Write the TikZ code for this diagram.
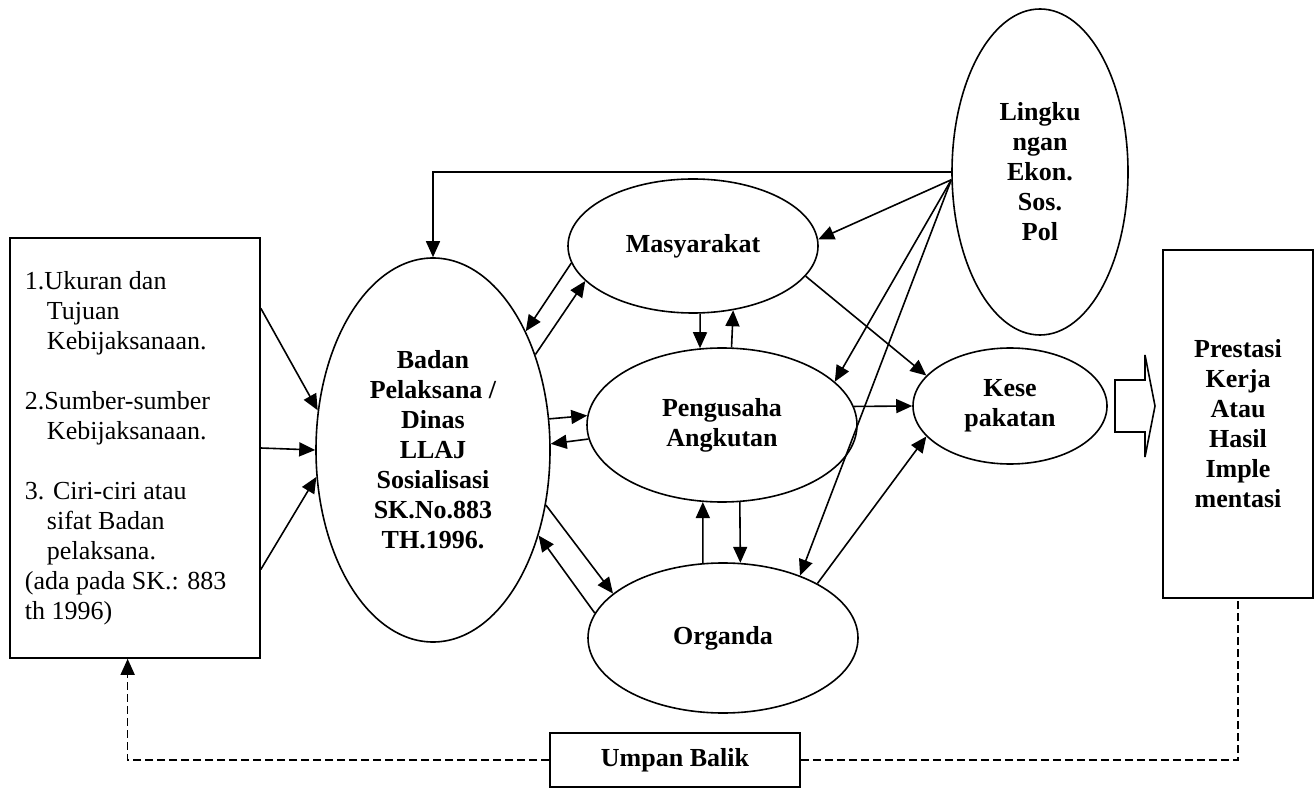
\documentclass[tikz,border=0pt]{standalone}
\usepackage{fontspec}
\setmainfont{Liberation Serif}
\usetikzlibrary{shapes.geometric,arrows.meta}

\tikzset{
  oval/.style={draw, ellipse, inner sep=0pt, align=center, font=\fontsize{13}{15}\selectfont\bfseries},
  box/.style={draw, rectangle, inner sep=0pt, font=\fontsize{13}{15}\selectfont},
  fb/.style={dash pattern=on 4pt off 2pt},
}

\begin{document}
\begin{tikzpicture}[x=0.5pt, y=-0.5pt, ->, >={Triangle[length=8pt,width=7pt]}, line width=0.8pt]
    \useasboundingbox (0,0) rectangle (1315,790);

    \node[box, minimum width=125pt, minimum height=210pt, text width=110pt, align=flush left] (crt) at (135,448)
        {1.Ukuran dan\\ \hspace*{11pt}Tujuan\\ \hspace*{11pt}Kebijaksanaan.\\[15pt]
         2.Sumber-sumber\\ \hspace*{11pt}Kebijaksanaan.\\[15pt]
         3. Ciri-ciri atau\\ \hspace*{11pt}sifat Badan\\ \hspace*{11pt}pelaksana.\\
         \mbox{(ada pada SK.: 883}\\ th 1996)};
    \node[oval, minimum width=117pt, minimum height=192pt] (bdn) at (433,450)
        {Badan\\ Pelaksana /\\ Dinas\\ LLAJ\\ Sosialisasi\\ SK.No.883\\ TH.1996.};
    \node[oval, minimum width=125pt, minimum height=67pt] (mas) at (693,246) {Masyarakat};
    \node[oval, minimum width=135pt, minimum height=77pt] (peng) at (722,425) {Pengusaha\\ Angkutan};
    \node[oval, minimum width=135pt, minimum height=75pt] (org) at (723,638) {Organda};
    \node[oval, minimum width=88pt, minimum height=163pt] (lkg) at (1040,172) {Lingku\\ ngan\\ Ekon.\\ Sos.\\ Pol};
    \node[oval, minimum width=97pt, minimum height=58pt] (kes) at (1010,406) {Kese\\ pakatan};
    \node[box, font=\fontsize{13}{15}\selectfont\bfseries, align=center, minimum width=75pt, minimum height=174pt] (prs) at (1238,424)
        {Prestasi\\ Kerja\\ Atau\\ Hasil\\ Imple\\ mentasi};
    \node[box, font=\fontsize{13}{15}\selectfont\bfseries, minimum width=125pt, minimum height=27pt] (umb) at (675,760) {Umpan Balik};

    \draw (crt.48) to (bdn.161);
    \draw (crt.east) to (bdn.west);
    \draw (crt.-44) to (bdn.193);

    \draw (lkg.west) -| (bdn.north);
    \draw (lkg.185) to (mas.3);
    \draw (lkg.185) to (peng.21);
    \draw (lkg.185) to (org.39);

    \draw (mas.-15) to (kes.160);
    \draw (peng.8) to (kes.west);
    \draw (org.30) to (kes.200);

    \draw (mas.188) to (bdn.52);
    \draw (bdn.43) to (mas.198);
    \draw (bdn.15) to (peng.176);
    \draw (peng.186) to (bdn.3);
    \draw (bdn.-26) to (org.158);
    \draw (org.169) to (bdn.-39);

    \draw (mas.-84) to (peng.106);
    \draw (peng.83) to (mas.-58);
    \draw (org.105) to (peng.-104);
    \draw (peng.-77) to (org.77);

    \draw[-] (1115,380) -- (1145,380) -- (1145,355) -- (1155,406) -- (1145,457) -- (1145,432) -- (1115,432) -- cycle;

    \draw[fb] (umb.west) -| (crt.-92);
    \draw[fb, -] (umb.east) -| (prs.south);
\end{tikzpicture}
\end{document}
